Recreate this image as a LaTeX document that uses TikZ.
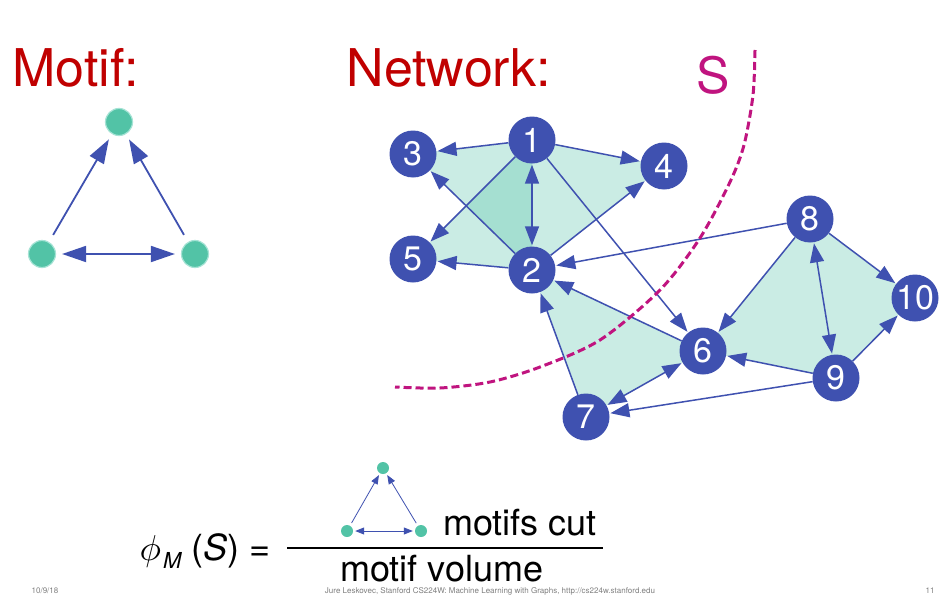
\documentclass[tikz,border=0pt]{standalone}
\usepackage{fontspec}
\setmainfont{TeX Gyre Heros}
\usetikzlibrary{arrows.meta,backgrounds}
\definecolor{nblue}{HTML}{3F51B0}
\definecolor{mteal}{HTML}{52C3A6}
\definecolor{mring}{HTML}{A6E3D5}
\definecolor{tred}{HTML}{C00000}
\definecolor{smag}{HTML}{C0147F}
\begin{document}
\begin{tikzpicture}[x=1pt,y=-1pt,
  netnode/.style={circle,fill=nblue,minimum size=47pt,inner sep=0pt,text=white,font=\fontsize{34}{34}\selectfont},
  motnode/.style={circle,fill=mteal,draw=mring,line width=1.2pt,minimum size=27pt,inner sep=0pt},
  smallnode/.style={circle,fill=mteal,minimum size=12pt,inner sep=0pt},
  netedge/.style={draw=nblue,line width=1.5pt,-{Triangle[length=19pt,width=14pt]},shorten >=1pt},
  netboth/.style={draw=nblue,line width=1.5pt,{Triangle[length=19pt,width=14pt]}-{Triangle[length=19pt,width=14pt]},shorten >=1pt,shorten <=1pt},
  motedge/.style={draw=nblue,line width=1.8pt,-{Triangle[length=24pt,width=16pt]},shorten >=6pt,shorten <=8pt},
  motboth/.style={draw=nblue,line width=1.8pt,{Triangle[length=24pt,width=16pt]}-{Triangle[length=24pt,width=16pt]},shorten >=6pt,shorten <=6pt},
  smedge/.style={draw=nblue,line width=0.8pt,-{Triangle[length=9pt,width=7pt]},shorten >=2pt,shorten <=3pt},
  smboth/.style={draw=nblue,line width=0.8pt,{Triangle[length=9pt,width=7pt]}-{Triangle[length=9pt,width=7pt]},shorten >=2pt,shorten <=2pt},
  motiffill/.style={fill=mteal,fill opacity=0.3},
  title/.style={anchor=base west,text=tred,font=\fontsize{52}{52}\selectfont},
  formula/.style={anchor=base west,inner sep=0pt,font=\fontsize{36}{36}\selectfont},
  footer/.style={anchor=base,inner sep=0pt,text=gray,font=\fontsize{8}{8}\selectfont}
]
\useasboundingbox (0,0) rectangle (949,594);

% titles
\node[title] (tmotif) at (9,86) {Motif:};
\node[title] (tnet) at (343,86) {Network:};
\node[anchor=base west,text=smag,font=\fontsize{50}{50}\selectfont] (slab) at (693,93) {S};

% motif
\node[motnode] (m1) at (119,122) {};
\node[motnode] (m2) at (42,254) {};
\node[motnode] (m3) at (195,254) {};
\draw[motedge] (m2) -- (m1);
\draw[motedge] (m3) -- (m1);
\draw[motboth] (m2) -- (m3);

% network nodes
\node[netnode] (n1) at (532,140) {1};
\node[netnode] (n2) at (532,270) {2};
\node[netnode] (n3) at (413,154) {3};
\node[netnode] (n4) at (664,166) {4};
\node[netnode] (n5) at (413,259) {5};
\node[netnode] (n6) at (703,351) {6};
\node[netnode] (n7) at (586,417) {7};
\node[netnode] (n8) at (810,219) {8};
\node[netnode] (n9) at (836,378) {9};
\node[netnode] (n10) at (915,298) {10};

\begin{scope}[on background layer]
  \fill[white] (0,0) rectangle (949,594);
  \fill[motiffill] (n1.center) -- (n2.center) -- (n3.center) -- cycle;
  \fill[motiffill] (n1.center) -- (n2.center) -- (n5.center) -- cycle;
  \fill[motiffill] (n1.center) -- (n2.center) -- (n4.center) -- cycle;
  \fill[motiffill] (n2.center) -- (n6.center) -- (n7.center) -- cycle;
  \fill[motiffill] (n6.center) -- (n8.center) -- (n9.center) -- cycle;
  \fill[motiffill] (n8.center) -- (n9.center) -- (n10.center) -- cycle;
\end{scope}

% network edges
\draw[netedge] (n1) -- (n3);
\draw[netedge] (n1) -- (n4);
\draw[netboth] (n1) -- (n2);
\draw[netedge] (n1) -- (n5);
\draw[netedge] (n2) -- (n3);
\draw[netedge] (n2) -- (n4);
\draw[netedge] (n2) -- (n5);
\draw[netedge] (n1) -- (n6);
\draw[netedge] (n8) -- (n2);
\draw[netedge] (n6) -- (n2);
\draw[netedge] (n7) -- (n2);
\draw[netboth] (n6) -- (n7);
\draw[netedge] (n8) -- (n6);
\draw[netboth] (n8) -- (n9);
\draw[netedge] (n8) -- (n10);
\draw[netedge] (n9) -- (n10);
\draw[netedge] (n9) -- (n6);
\draw[netedge] (n9) -- (n7);

% cut S
\draw[smag,line width=3pt,dash pattern=on 8pt off 4pt]
  plot[smooth] coordinates {(755,50) (753,95) (744,145) (730,182) (700,238) (660,290) (600,340) (540,367) (490,382) (440,388) (395,387)};

% formula
\node[anchor=base west,inner sep=0pt,scale=3.6] (phi) at (139,560) {$\phi$};
\node[anchor=base west,inner sep=0pt,font=\fontsize{22}{22}\selectfont\itshape] (msub) at (163,568) {M};
\node[formula] (lhs) at (191,560) {(\textit{S}) =};
\coordinate (fl) at (287,548);
\coordinate (fr) at (603,548);
\draw[line width=1.8pt] (fl) -- (fr);
\node[formula] (mcut) at (443,535) {motifs cut};
\node[formula] (mvol) at (340,581) {motif volume};
\node[smallnode] (s1) at (383,468) {};
\node[smallnode] (s2) at (347,531) {};
\node[smallnode] (s3) at (421,531) {};
\draw[smedge] (s2) -- (s1);
\draw[smedge] (s3) -- (s1);
\draw[smboth] (s2) -- (s3);

% footer
\node[footer] (fdate) at (45,593) {10/9/18};
\node[footer] (fmid) at (490,593) {Jure Leskovec, Stanford CS224W: Machine Learning with Graphs, http://cs224w.stanford.edu};
\node[footer] (fpage) at (930,593) {11};
\end{tikzpicture}
\end{document}
